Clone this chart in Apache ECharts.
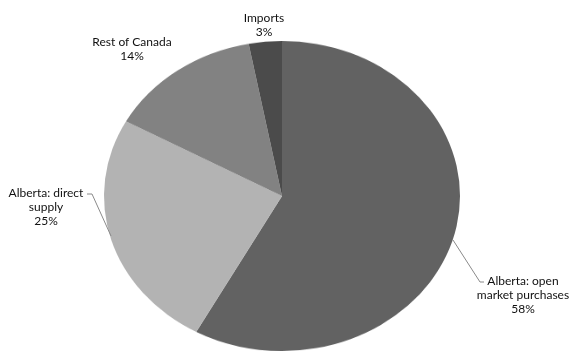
<!DOCTYPE html>
<html>
<head>
<meta charset="utf-8">
<script src="https://cdn.jsdelivr.net/npm/echarts@6/dist/echarts.min.js"></script>
<style>
  html, body { margin: 0; padding: 0; background: #fff; }
  #wrap { position: relative; width: 573px; height: 353px; overflow: hidden; }
  .layer { position: absolute; left: 0; top: 0; width: 573px; height: 353px; }
  /* the pie is drawn as a circle on a taller canvas and squashed vertically into an ellipse */
  #pie { height: 400px; transform: scaleY(0.871); transform-origin: 282px 196px; }
</style>
</head>
<body>
<div id="wrap">
  <div id="pie" class="layer"></div>
  <div id="labels" class="layer"></div>
</div>
<script>
// Supply sources (share, %)
const categories = ['Alberta: open\nmarket purchases', 'Alberta: direct\nsupply', 'Rest of Canada', 'Imports'];
const shares = [58, 25, 14, 3];
const sliceColors = ['#626262', '#b3b3b3', '#828282', '#4b4b4b'];

const CENTER = [282, 196];
const RADIUS = 178;

// label block centres and leader lines (pixels)
const labelSpots = [
  { x: 523, y: 295, line: [[453, 240], [480, 282], [484, 282]] },
  { x: 46, y: 207, line: [[111, 236], [92, 194], [87, 194]] },
  { x: 132, y: 49, line: null },
  { x: 264, y: 25, line: null }
];

const pieData = categories.map((name, i) => ({
  name: name,
  value: shares[i],
  itemStyle: { color: sliceColors[i] }
}));

const pieChart = echarts.init(document.getElementById('pie'), null, { renderer: 'canvas' });
pieChart.setOption({
  animation: false,
  series: [{
    type: 'pie',
    center: CENTER,
    radius: RADIUS,
    startAngle: 90,
    clockwise: true,
    silent: true,
    label: { show: false },
    labelLine: { show: false },
    itemStyle: { borderWidth: 0 },
    data: pieData
  }]
});

const labelData = categories.map((name, i) => ({
  name: name,
  value: shares[i],
  itemStyle: { color: 'rgba(0,0,0,0)' },
  labelLine: { show: !!labelSpots[i].line }
}));

const labelChart = echarts.init(document.getElementById('labels'), null, { renderer: 'canvas' });
labelChart.setOption({
  animation: false,
  series: [{
    type: 'pie',
    center: CENTER,
    radius: RADIUS,
    startAngle: 90,
    clockwise: true,
    silent: true,
    itemStyle: { borderWidth: 0 },
    label: {
      show: true,
      position: 'outside',
      formatter: p => p.name + '\n' + p.value + '%',
      fontFamily: 'Lato',
      fontSize: 12,
      lineHeight: 14,
      color: '#111',
      align: 'center',
      overflow: 'none',
      width: 200
    },
    labelLine: {
      lineStyle: { color: '#8a8a8a', width: 1 }
    },
    labelLayout: function (params) {
      const s = labelSpots[params.dataIndex];
      const out = { x: s.x, y: s.y, align: 'center', verticalAlign: 'middle', moveOverlap: false };
      if (s.line) out.labelLinePoints = s.line;
      return out;
    },
    data: labelData
  }]
});
</script>
</body>
</html>
